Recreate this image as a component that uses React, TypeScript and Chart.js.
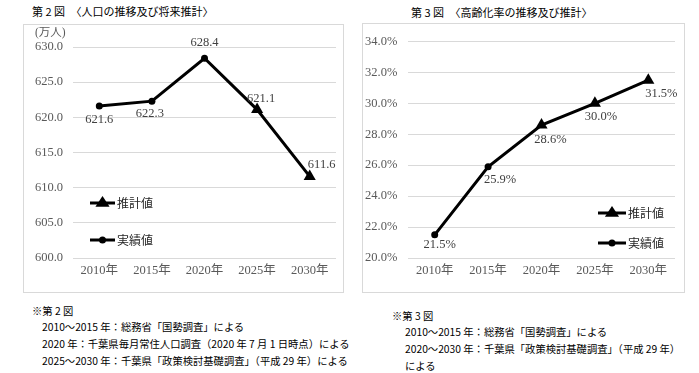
import React, { useEffect, useRef } from "react";
import { Chart, registerables } from "chart.js";

Chart.register(...registerables);

// ---------- data ----------
const years = ["2010年", "2015年", "2020年", "2025年", "2030年"];
const popValues = [621.6, 622.3, 628.4, 621.1, 611.6];
const popKinds = ["実績値", "実績値", "実績値", "推計値", "推計値"];
const agingValues = [21.5, 25.9, 28.6, 30.0, 31.5];
const agingKinds = ["実績値", "実績値", "推計値", "推計値", "推計値"];
const legendLabels = ["推計値", "実績値"];
const popTitle = "第 2 図　〈人口の推移及び将来推計〉";
const agingTitle = "第 3 図　〈高齢化率の推移及び推計〉";
const popUnit = "(万人)";
const popNotes = [
  "※第 2 図",
  "2010～2015 年：総務省「国勢調査」による",
  "2020 年：千葉県毎月常住人口調査（2020 年 7 月 1 日時点）による",
  "2025～2030 年：千葉県「政策検討基礎調査」（平成 29 年）による",
];
const agingNotes = [
  "※第 3 図",
  "2010～2015 年：総務省「国勢調査」による",
  "2020～2030 年：千葉県「政策検討基礎調査」（平成 29 年）",
  "による",
];

// ---------- styles ----------
const SERIF = "'Liberation Serif', 'Noto Sans CJK JP', serif";
const GOTHIC = "'Noto Sans CJK JP', sans-serif";
const GRID = "#d9d9d9";
const TICK = "#595959";

const popLabelOffsets = [
  [0, 14],
  [-2, 13],
  [0, -16],
  [4, -11],
  [12, -12],
];
const agingLabelOffsets = [
  [5, 10],
  [12, 13],
  [9, 15],
  [6, 13],
  [13, 14],
];

const markerStyle = (k: string) => (k === "推計値" ? "triangle" : "circle");
const markerRadius = (k: string) => (k === "推計値" ? 7 : 3.5);

const customPlugin = {
  id: "custom",
  afterDatasetsDraw(chart: any, _args: any, opts: any) {
    const ctx = chart.ctx;
    const meta = chart.getDatasetMeta(0);
    const data = chart.data.datasets[0].data;
    ctx.save();
    ctx.font = `12.5px ${SERIF}`;
    ctx.fillStyle = "#404040";
    ctx.textAlign = "center";
    ctx.textBaseline = "middle";
    meta.data.forEach((pt: any, i: number) => {
      const [dx, dy] = opts.offsets[i];
      ctx.fillText(opts.format(data[i]), pt.x + dx, pt.y + dy);
    });
    // legend
    const lg = opts.legend;
    legendLabels.forEach((lab, i) => {
      const y = lg.y[i];
      ctx.strokeStyle = "#000";
      ctx.lineWidth = 3;
      ctx.beginPath();
      ctx.moveTo(lg.x0, y);
      ctx.lineTo(lg.x1, y);
      ctx.stroke();
      const mx = (lg.x0 + lg.x1) / 2;
      ctx.fillStyle = "#000";
      ctx.beginPath();
      if (lab === "推計値") {
        const r = 7;
        ctx.moveTo(mx, y - r);
        ctx.lineTo(mx + r * 0.87 + 1, y + r * 0.55);
        ctx.lineTo(mx - r * 0.87 - 1, y + r * 0.55);
        ctx.closePath();
      } else {
        ctx.arc(mx, y, 3.5, 0, Math.PI * 2);
      }
      ctx.fill();
      ctx.font = `12px ${GOTHIC}`;
      ctx.fillStyle = "#262626";
      ctx.textAlign = "left";
      ctx.fillText(lab, lg.x1 + 2, y);
    });
    ctx.restore();
  },
};

type Cfg = {
  values: number[];
  kinds: string[];
  min: number;
  max: number;
  step: number;
  fmt: (v: number) => string;
  offsets: number[][];
  legend: any;
  yWidth: number;
  cross: string;
  padding: any;
  w: number;
  h: number;
};

function LineChart(p: Cfg) {
  const ref = useRef<HTMLCanvasElement>(null);
  useEffect(() => {
    const chart = new Chart(ref.current!, {
      type: "line",
      data: {
        labels: years,
        datasets: [
          {
            data: p.values,
            borderColor: "#000",
            backgroundColor: "#000",
            borderWidth: 3,
            pointStyle: p.kinds.map(markerStyle) as any,
            pointRadius: p.kinds.map(markerRadius),
            pointBackgroundColor: "#000",
            pointBorderColor: "#000",
            pointBorderWidth: 0,
            tension: 0,
          },
        ],
      },
      options: {
        animation: false,
        responsive: false,
        events: [],
        layout: { padding: p.padding },
        plugins: {
          legend: { display: false },
          tooltip: { enabled: false },
          custom: { offsets: p.offsets, format: p.fmt, legend: p.legend },
        } as any,
        scales: {
          x: {
            offset: true,
            grid: { display: false, drawTicks: false },
            border: { display: false },
            ticks: { color: TICK, font: { family: SERIF, size: 12.5 }, padding: 5 },
            afterFit: (s: any) => {
              s.height = 34;
            },
          },
          y: {
            min: p.min,
            max: p.max,
            grid: { color: GRID, drawTicks: false, lineWidth: 1 },
            border: { display: false },
            ticks: {
              stepSize: p.step,
              color: TICK,
              font: { family: SERIF, size: 12.5 },
              padding: 10,
              crossAlign: p.cross as any,
              callback: (v: any) => p.fmt(Number(v)),
            },
            afterFit: (s: any) => {
              s.width = p.yWidth;
            },
          },
        },
      },
      plugins: [customPlugin],
    });
    return () => chart.destroy();
  }, []);
  return <canvas ref={ref} width={p.w} height={p.h} style={{ display: "block", width: p.w, height: p.h }} />;
}

const abs = (l: number, t: number, extra: any = {}) => ({ position: "absolute" as const, left: l, top: t, whiteSpace: "nowrap" as const, ...extra });

export default function App() {
  const titleStyle = { fontFamily: GOTHIC, fontSize: 11, color: "#000", lineHeight: "14px" };
  const noteStyle = { fontFamily: GOTHIC, fontSize: 10.3, color: "#000", lineHeight: "14px" };
  return (
    <div style={{ position: "fixed", left: 0, top: 0, width: 699, height: 373, background: "#fff", overflow: "hidden" }}>
      <div style={abs(32, 4, titleStyle)}>{popTitle}</div>
      <div style={abs(411, 5, titleStyle)}>{agingTitle}</div>

      <div style={abs(23, 24, { width: 319, height: 267, border: `1px solid ${GRID}` })}>
        <LineChart
          values={popValues}
          kinds={popKinds}
          min={600}
          max={630}
          step={5}
          fmt={(v) => v.toFixed(1)}
          offsets={popLabelOffsets}
          legend={{ x0: 66, x1: 91, y: [178, 215] }}
          yWidth={49}
          cross="near"
          padding={{ left: 0, right: 5, top: 22, bottom: 0 }}
          w={319}
          h={267}
        />
        <div style={abs(11, 1, { fontFamily: SERIF, fontSize: 11.5, lineHeight: "12px", color: TICK })}>{popUnit}</div>
      </div>

      <div style={abs(362, 23, { width: 321, height: 268, border: `1px solid ${GRID}` })}>
        <LineChart
          values={agingValues}
          kinds={agingKinds}
          min={20}
          max={34}
          step={2}
          fmt={(v) => v.toFixed(1) + "%"}
          offsets={agingLabelOffsets}
          legend={{ x0: 235, x1: 263, y: [189, 219] }}
          yWidth={43}
          cross="far"
          padding={{ left: 2, right: 9, top: 13, bottom: 0 }}
          w={321}
          h={268}
        />
      </div>

      <div style={abs(32, 304, noteStyle)}>{popNotes[0]}</div>
      {popNotes.slice(1).map((t, i) => (
        <div key={i} style={abs(42, 320 + i * 17, noteStyle)}>{t}</div>
      ))}
      <div style={abs(392, 309, noteStyle)}>{agingNotes[0]}</div>
      {agingNotes.slice(1).map((t, i) => (
        <div key={i} style={abs(405, 325 + i * 17, noteStyle)}>{t}</div>
      ))}
    </div>
  );
}
